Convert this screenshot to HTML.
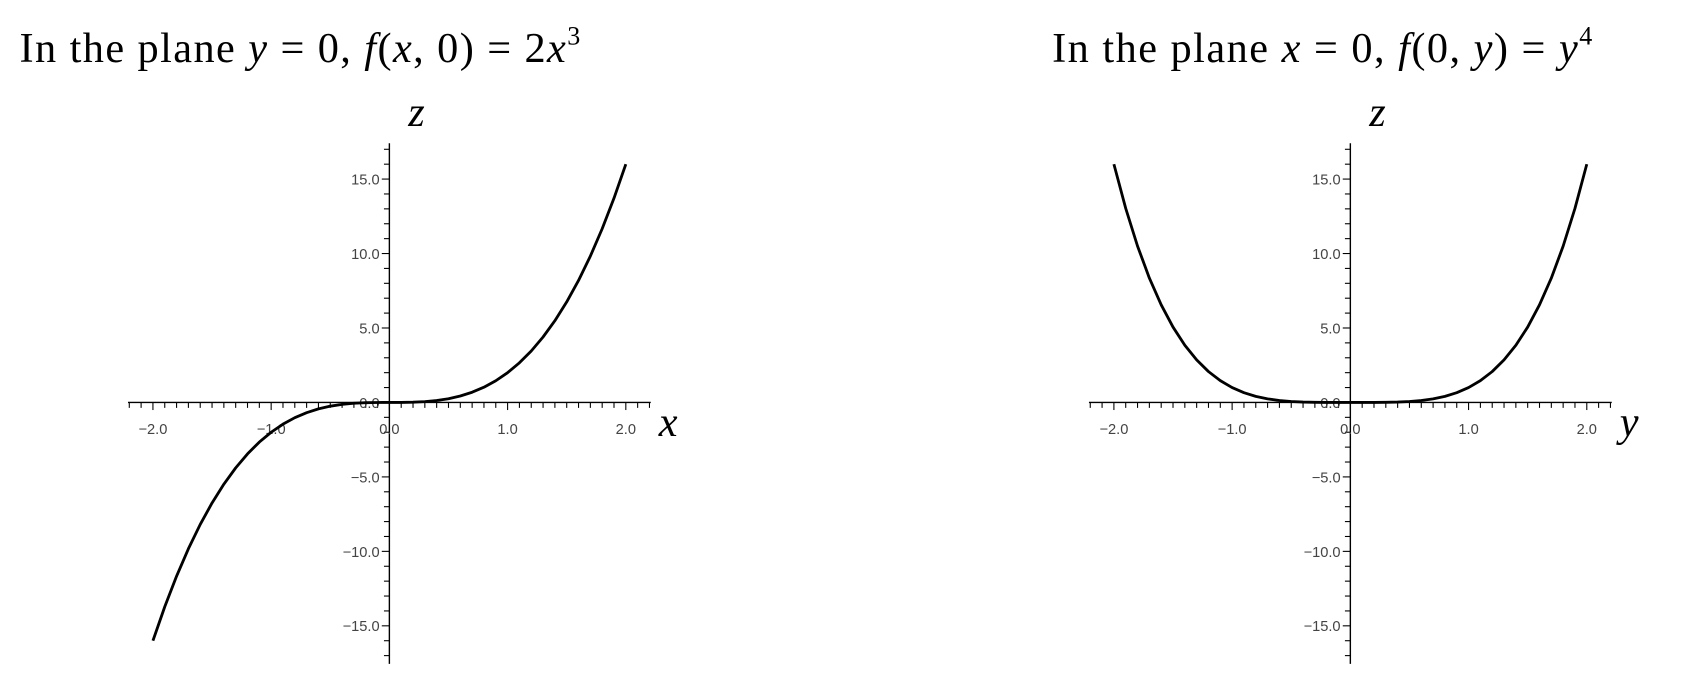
<!DOCTYPE html>
<html><head><meta charset="utf-8"><style>
body{margin:0;background:#fff}
svg{display:block}
.t{font-family:"Liberation Serif",serif;font-size:39px}
.tk{font-family:"Liberation Sans",sans-serif;font-size:13.5px;fill:#444}
</style></head><body>
<svg id="s" width="1692" height="678" viewBox="0 0 1560 625" xmlns="http://www.w3.org/2000/svg">
<text class="t" x="18" y="57" textLength="517" lengthAdjust="spacing">In the plane <tspan font-style="italic">y</tspan> = 0, <tspan font-style="italic">f</tspan>(<tspan font-style="italic">x</tspan>, 0) = 2<tspan font-style="italic">x</tspan><tspan font-size="24" dy="-16">3</tspan></text>
<text class="t" x="970" y="57" textLength="498" lengthAdjust="spacing">In the plane <tspan font-style="italic">x</tspan> = 0, <tspan font-style="italic">f</tspan>(0, <tspan font-style="italic">y</tspan>) = <tspan font-style="italic">y</tspan><tspan font-size="24" dy="-16">4</tspan></text>
</svg>
<script>
const xTicks=[-2,-1,0,1,2];
const zTicks=[-15,-10,-5,0,5,10,15];
const samples=[-2,-1.9,-1.8,-1.7,-1.6,-1.5,-1.4,-1.3,-1.2,-1.1,-1,-0.9,-0.8,-0.7,-0.6,-0.5,-0.4,-0.3,-0.2,-0.1,0,0.1,0.2,0.3,0.4,0.5,0.6,0.7,0.8,0.9,1,1.1,1.2,1.3,1.4,1.5,1.6,1.7,1.8,1.9,2];
const leftValues=[-16,-13.718,-11.664,-9.826,-8.192,-6.75,-5.488,-4.394,-3.456,-2.662,-2,-1.458,-1.024,-0.686,-0.432,-0.25,-0.128,-0.054,-0.016,-0.002,0,0.002,0.016,0.054,0.128,0.25,0.432,0.686,1.024,1.458,2,2.662,3.456,4.394,5.488,6.75,8.192,9.826,11.664,13.718,16];
const rightValues=[16,13.032,10.498,8.352,6.554,5.063,3.842,2.856,2.074,1.464,1,0.656,0.41,0.24,0.13,0.063,0.026,0.008,0.002,0,0,0,0.002,0.008,0.026,0.063,0.13,0.24,0.41,0.656,1,1.464,2.074,2.856,3.842,5.063,6.554,8.352,10.498,13.032,16];
const NS="http://www.w3.org/2000/svg";
const svg=document.getElementById('s');
function mk(tag,attrs,parent){const e=document.createElementNS(NS,tag);for(const k in attrs)e.setAttribute(k,attrs[k]);(parent||svg).appendChild(e);return e;}
function panel(ox,axisLbl,vals,name){
  const g=mk('g',{});
  
  
  const X=v=>ox+v*109, Z=v=>371-v*13.73;
  const ax=mk('line',{x1:ox-241,x2:ox+241,y1:371,y2:371,stroke:'#000','stroke-width':1.3},g);
  
  
  const az=mk('line',{x1:ox,x2:ox,y1:132,y2:612,stroke:'#000','stroke-width':1.3},g);
  
  
  for(let i=-22;i<=22;i++){const x=X(i/10);mk('line',{x1:x,x2:x,y1:371,y2:i%10==0?378:376,stroke:'#000','stroke-width':1},g);}
  for(let i=-17;i<=17;i++){const y=Z(i);mk('line',{x1:i%5==0?ox-7:ox-5,x2:ox,y1:y,y2:y,stroke:'#000','stroke-width':1},g);}
  xTicks.forEach(v=>{const t=mk('text',{x:X(v),y:400,'text-anchor':'middle',class:'tk'},g);t.textContent=(v<0?'\u2212':'')+Math.abs(v).toFixed(1);
    
    });
  zTicks.forEach(v=>{const t=mk('text',{x:ox-9,y:Z(v)+5,'text-anchor':'end',class:'tk'},g);t.textContent=(v<0?'\u2212':'')+Math.abs(v).toFixed(1);
    
    });
  const zl=mk('text',{x:ox+25,y:116,class:'t','font-style':'italic','font-size':32,'text-anchor':'middle'},g);zl.textContent='z';
  
  
  const xl=mk('text',{x:ox+257,y:402,class:'t','font-style':'italic','font-size':34,'text-anchor':'middle'},g);xl.textContent=axisLbl;
  
  
  const p=mk('path',{d:samples.map((s,i)=>(i?'L':'M')+X(s)+','+Z(vals[i])).join(''),fill:'none',stroke:'#000','stroke-width':2.6,'stroke-linejoin':'round'},g);
  
  
}
panel(359,'x',leftValues,'left-plot');
panel(1245,'y',rightValues,'right-plot');
</script>
</body></html>
